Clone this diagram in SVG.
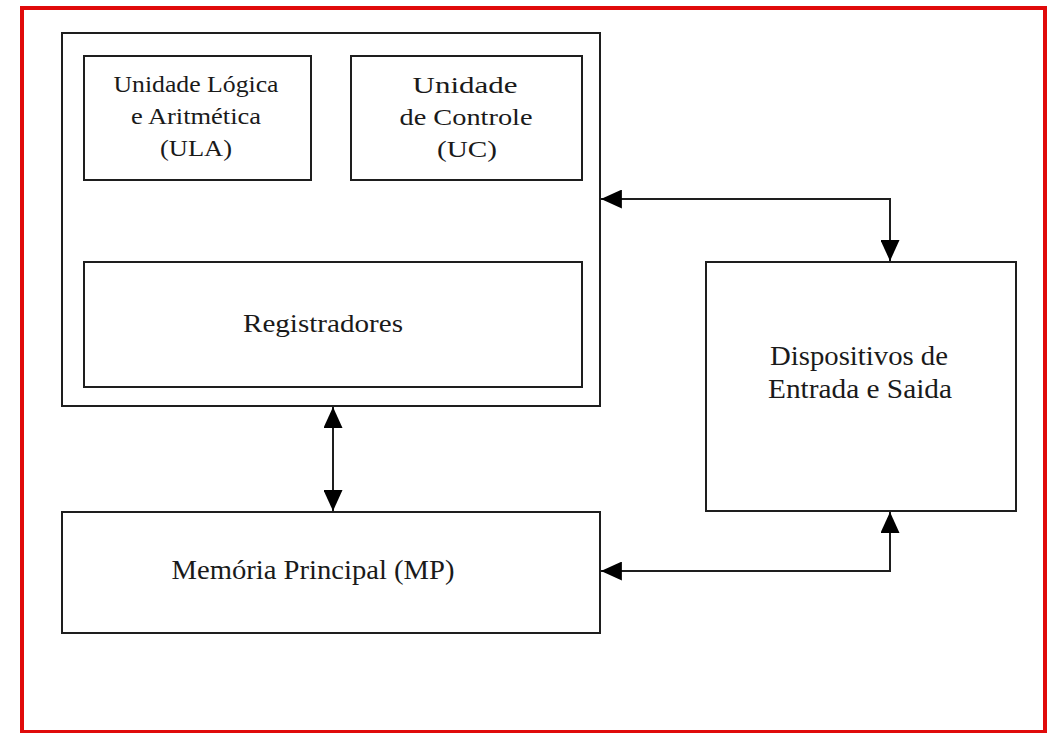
<svg xmlns="http://www.w3.org/2000/svg" width="1056" height="733" viewBox="0 0 1056 733">
<style>
.box{fill:#fff;stroke:#1e1e1e;stroke-width:2}
.t{font-family:"Liberation Serif","Times New Roman",serif;fill:#1a1a1a;text-anchor:middle}
.s{font-size:24px}
.c{fill:none;stroke:#1e1e1e;stroke-width:2}
</style>
<defs>
<marker id="ah" viewBox="0 0 22 20" refX="22" refY="10" markerWidth="22" markerHeight="19" markerUnits="userSpaceOnUse" orient="auto-start-reverse">
<path d="M0,0 L22,10 L0,20 z" fill="#000"/>
</marker>
</defs>
<rect x="0" y="0" width="1056" height="733" fill="#fff"/>
<rect x="22" y="8" width="1023" height="724" fill="none" stroke="#e00a0a" stroke-width="4"/>
<g id="cpu"><rect class="box" x="62" y="33" width="538" height="373"/></g>
<g id="ula">
<rect class="box" x="84" y="56" width="227" height="124"/>
<text class="t s" x="196" y="92" textLength="165" lengthAdjust="spacingAndGlyphs">Unidade Lógica</text>
<text class="t s" x="196" y="124" textLength="130" lengthAdjust="spacingAndGlyphs">e Aritmética</text>
<text class="t s" x="196" y="156" textLength="72" lengthAdjust="spacingAndGlyphs">(ULA)</text>
</g>
<g id="uc">
<rect class="box" x="351" y="56" width="231" height="124"/>
<text class="t s" x="465" y="93" textLength="105" lengthAdjust="spacingAndGlyphs">Unidade</text>
<text class="t s" x="466" y="125" textLength="133" lengthAdjust="spacingAndGlyphs">de Controle</text>
<text class="t s" x="467" y="157" textLength="60" lengthAdjust="spacingAndGlyphs">(UC)</text>
</g>
<g id="reg">
<rect class="box" x="84" y="262" width="498" height="125"/>
<text class="t" style="font-size:26px" x="323" y="332" textLength="160" lengthAdjust="spacingAndGlyphs">Registradores</text>
</g>
<g id="mp">
<rect class="box" x="62" y="512" width="538" height="121"/>
<text class="t" style="font-size:28px" x="313" y="579" textLength="283" lengthAdjust="spacingAndGlyphs">Memória Principal (MP)</text>
</g>
<g id="es">
<rect class="box" x="706" y="262" width="310" height="249"/>
<text class="t" style="font-size:27px" x="859" y="365" textLength="178" lengthAdjust="spacingAndGlyphs">Dispositivos de</text>
<text class="t" style="font-size:27px" x="860" y="398" textLength="184" lengthAdjust="spacingAndGlyphs">Entrada e Saida</text>
</g>
<g id="connectors">
<path class="c" d="M601,199 H890 V261" marker-start="url(#ah)" marker-end="url(#ah)"/>
<path class="c" d="M333,407 V511" marker-start="url(#ah)" marker-end="url(#ah)"/>
<path class="c" d="M601,571 H890 V512" marker-start="url(#ah)" marker-end="url(#ah)"/>
</g>
</svg>
